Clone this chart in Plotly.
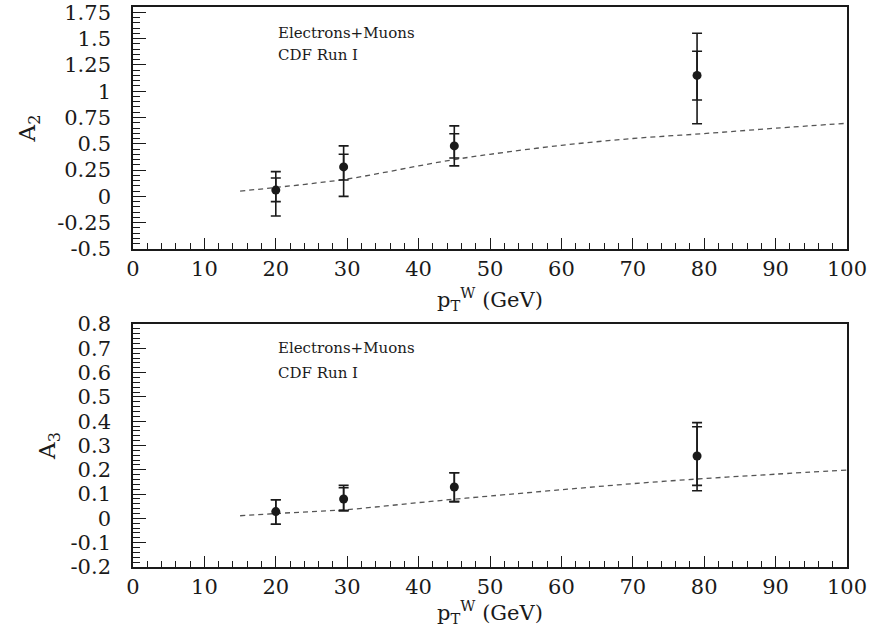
import plotly.graph_objects as go

# Measured W asymmetry coefficients vs W transverse momentum
pt = [20.0, 29.5, 45.0, 79.0]

a2 = [0.06, 0.28, 0.48, 1.15]
a2_tot_up = [0.175, 0.20, 0.19, 0.40]
a2_tot_dn = [0.246, 0.28, 0.19, 0.46]
a2_stat_up = [0.115, 0.12, 0.116, 0.23]
a2_stat_dn = [0.11, 0.124, 0.115, 0.234]

a3 = [0.028, 0.080, 0.129, 0.257]
a3_tot_up = [0.049, 0.056, 0.059, 0.137]
a3_tot_dn = [0.052, 0.048, 0.060, 0.143]
a3_stat_up = [0.049, 0.046, 0.059, 0.120]
a3_stat_dn = [0.052, 0.048, 0.060, 0.121]

# Theory prediction curves
th_pt = [15, 20, 25, 30, 35, 40, 45, 50, 60, 70, 80, 90, 100]
th_a2 = [0.05, 0.085, 0.122, 0.165, 0.225, 0.29, 0.35, 0.40, 0.485, 0.55, 0.597, 0.648, 0.695]
th_a3 = [0.011, 0.02, 0.028, 0.036, 0.05, 0.065, 0.079, 0.092, 0.118, 0.143, 0.164, 0.182, 0.199]

a2_ticks = [-0.5, -0.25, 0, 0.25, 0.5, 0.75, 1, 1.25, 1.5, 1.75]
a2_ticktext = ["-0.5", "-0.25", "0", "0.25", "0.5", "0.75", "1", "1.25", "1.5", "1.75"]
a3_ticks = [-0.2, -0.1, 0, 0.1, 0.2, 0.3, 0.4, 0.5, 0.6, 0.7, 0.8]
a3_ticktext = ["-0.2", "-0.1", "0", "0.1", "0.2", "0.3", "0.4", "0.5", "0.6", "0.7", "0.8"]
x_ticks = [0, 10, 20, 30, 40, 50, 60, 70, 80, 90, 100]

FONT = "DejaVu Serif"
INK = "#1a1a1a"

fig = go.Figure()


def add_panel(yv, tot_up, tot_dn, st_up, st_dn, th_y, xa, ya):
    fig.add_trace(go.Scatter(
        x=th_pt, y=th_y, mode="lines", line=dict(color="#555555", width=1.3, dash="5px,4px"),
        line_shape="spline", xaxis=xa, yaxis=ya, showlegend=False, hoverinfo="skip"))
    fig.add_trace(go.Scatter(
        x=pt, y=yv, mode="markers", marker=dict(size=1, color=INK),
        error_y=dict(type="data", symmetric=False, array=tot_up, arrayminus=tot_dn,
                     color=INK, thickness=1.6, width=5),
        xaxis=xa, yaxis=ya, showlegend=False))
    fig.add_trace(go.Scatter(
        x=pt, y=yv, mode="markers", marker=dict(size=9, color=INK),
        error_y=dict(type="data", symmetric=False, array=st_up, arrayminus=st_dn,
                     color=INK, thickness=1.6, width=5),
        xaxis=xa, yaxis=ya, showlegend=False))


add_panel(a2, a2_tot_up, a2_tot_dn, a2_stat_up, a2_stat_dn, th_a2, "x", "y")
add_panel(a3, a3_tot_up, a3_tot_dn, a3_stat_up, a3_stat_dn, th_a3, "x2", "y2")

xdom = [133 / 885, 847 / 885]
xcommon = dict(
    range=[0, 100], tickmode="array", tickvals=x_ticks, ticks="inside", ticklen=11,
    tickwidth=1.4, tickcolor=INK, showline=True, linecolor=INK, linewidth=1.6, mirror=True,
    showgrid=False, zeroline=False, domain=xdom, automargin=False,
    tickfont=dict(family=FONT, size=21, color=INK),
    minor=dict(tickmode="linear", tick0=0, dtick=2, ticks="inside", ticklen=6,
               tickwidth=1.2, tickcolor=INK, showgrid=False),
    title=dict(text="p<sub>T</sub><sup>W</sup> (GeV)", font=dict(family=FONT, size=21, color=INK),
               standoff=12),
)
ycommon = dict(
    ticks="inside", ticklen=13, tickwidth=1.4, tickcolor=INK, showline=True, linecolor=INK,
    linewidth=1.6, mirror=True, showgrid=False, zeroline=False, tickmode="array",
    automargin=False, tickfont=dict(family=FONT, size=21, color=INK), ticklabelstandoff=16,
)

fig.update_layout(
    width=885, height=627, margin=dict(l=0, r=0, t=0, b=0),
    paper_bgcolor="white", plot_bgcolor="white",
    xaxis=dict(**xcommon, anchor="y"),
    xaxis2=dict(**xcommon, anchor="y2"),
    yaxis=dict(**ycommon, range=[-0.5, 1.8], tickvals=a2_ticks, ticktext=a2_ticktext,
               domain=[1 - 249 / 627, 1 - 7 / 627], anchor="x",
               minor=dict(tickmode="linear", tick0=0, dtick=0.05, ticks="inside", ticklen=7,
                          tickwidth=1.2, tickcolor=INK, showgrid=False),
               title=dict(text="A<sub>2</sub>", font=dict(family=FONT, size=23, color=INK),
                          standoff=15)),
    yaxis2=dict(**ycommon, range=[-0.2, 0.8], tickvals=a3_ticks, ticktext=a3_ticktext,
                domain=[1 - 567 / 627, 1 - 324 / 627], anchor="x2",
                minor=dict(tickmode="linear", tick0=0, dtick=0.02, ticks="inside", ticklen=7,
                           tickwidth=1.2, tickcolor=INK, showgrid=False),
                title=dict(text="A<sub>3</sub>", font=dict(family=FONT, size=23, color=INK),
                           standoff=8)),
)

labels = [("Electrons+Muons", 1 - 32.7 / 627), ("CDF Run I", 1 - 55 / 627),
          ("Electrons+Muons", 1 - 348 / 627), ("CDF Run I", 1 - 373 / 627)]
for txt, yp in labels:
    fig.add_annotation(text=txt, xref="paper", yref="paper", x=276 / 885, y=yp,
                       xanchor="left", yanchor="middle", showarrow=False,
                       font=dict(family=FONT, size=15, color=INK))

fig.write_html("out.html")
